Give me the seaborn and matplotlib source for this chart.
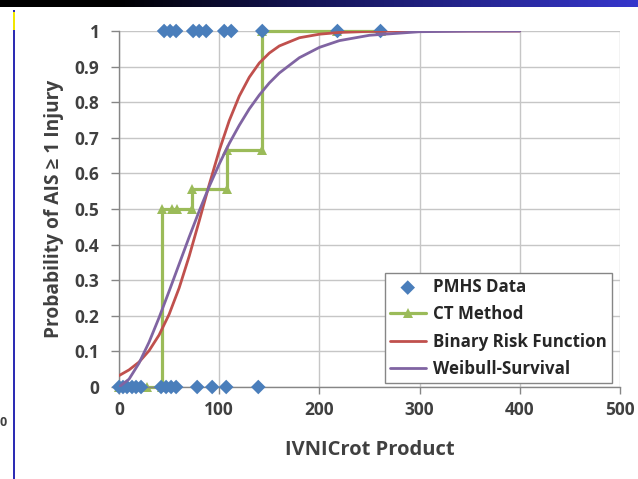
import numpy as np
import pandas as pd
import matplotlib
matplotlib.use("Agg")
import matplotlib.pyplot as plt
from matplotlib.colors import LinearSegmentedColormap
from matplotlib.patches import Rectangle
from matplotlib.ticker import FuncFormatter, MultipleLocator
import seaborn as sns

# PMHS test results (0 = no injury, 1 = AIS >= 1)
pmhs_x = [0, 4, 8, 13, 17, 22, 42, 47, 52, 57, 78, 93, 107, 139,
          45, 51, 57, 74, 80, 87, 105, 112, 143, 218, 261]
pmhs_y = [0, 0, 0, 0, 0, 0, 0, 0, 0, 0, 0, 0, 0, 0,
          1, 1, 1, 1, 1, 1, 1, 1, 1, 1, 1]

# CT method step estimate
ct_x = [0, 28, 43, 43, 53, 58, 73, 73, 108, 108, 143, 143, 218, 261]
ct_y = [0, 0, 0, 0.5, 0.5, 0.5, 0.5, 0.556, 0.556, 0.667, 0.667, 1, 1, 1]

# risk curves
curve_x = [0, 10, 20, 30, 40, 50, 60, 70, 80, 90, 100, 110, 120, 130, 140,
           150, 160, 180, 200, 220, 250, 300, 350, 400]
binary_y = [0.032, 0.048, 0.070, 0.102, 0.146, 0.204, 0.278, 0.367, 0.466,
            0.568, 0.664, 0.748, 0.817, 0.870, 0.910, 0.938, 0.958, 0.981,
            0.991, 0.996, 0.999, 1.0, 1.0, 1.0]
weibull_y = [0.0, 0.022, 0.067, 0.126, 0.195, 0.269, 0.345, 0.421, 0.494,
             0.563, 0.626, 0.684, 0.735, 0.781, 0.820, 0.854, 0.882, 0.925,
             0.954, 0.973, 0.988, 0.998, 0.9996, 1.0]

pmhs = pd.DataFrame({'x': pmhs_x, 'y': pmhs_y})
ct = pd.DataFrame({'x': ct_x, 'y': ct_y})
curves = pd.DataFrame({'x': curve_x, 'binary': binary_y, 'weibull': weibull_y})

sns.set_theme(style="whitegrid")
plt.rcParams['font.family'] = ['Open Sans', 'DejaVu Sans']
plt.rcParams['font.weight'] = 'bold'

fig = plt.figure(figsize=(6.38, 4.79), dpi=100)
fig.patch.set_facecolor('white')

# slide decoration: gradient bar on top, blue rule on the left
bar = fig.add_axes([0, 1 - 7 / 479, 1, 7 / 479])
cmap = LinearSegmentedColormap.from_list(
    'slide', [(0, '#000000'), (0.18, '#000000'), (0.45, '#12124d'), (1, '#3636cc')])
bar.imshow(np.linspace(0, 1, 256)[None, :], cmap=cmap, aspect='auto')
bar.axis('off')
fig.add_artist(Rectangle((13 / 638, 0), 2 / 638, 1 - 10 / 479,
                         transform=fig.transFigure, color='#2d2db4', lw=0))
fig.add_artist(Rectangle((13 / 638, 1 - 30 / 479), 2 / 638, 18 / 479,
                         transform=fig.transFigure, color='#f2e600', lw=0))
fig.text(0.0, 1 - 422 / 479, '0', fontsize=9, color='#404040', va='center')

ax = fig.add_axes([119 / 638, 1 - 387 / 479, 501 / 638, 356 / 479])

sns.lineplot(data=ct, x='x', y='y', ax=ax, estimator=None, sort=False,
             color='#9bbb59', lw=2.3, marker='^', markersize=7.5,
             markeredgewidth=0, label='CT Method', zorder=2, clip_on=False)
sns.scatterplot(data=pmhs, x='x', y='y', ax=ax, marker='D', s=55,
                color='#4a7ebb', edgecolor='none', label='PMHS Data',
                zorder=3, clip_on=False)
sns.lineplot(data=curves, x='x', y='binary', ax=ax, color='#c0504d', lw=2,
             label='Binary Risk Function', zorder=4)
sns.lineplot(data=curves, x='x', y='weibull', ax=ax, color='#8064a2', lw=2,
             label='Weibull-Survival', zorder=5)

ax.set_xlim(0, 500)
ax.set_ylim(0, 1)
ax.xaxis.set_major_locator(MultipleLocator(100))
ax.yaxis.set_major_locator(MultipleLocator(0.1))
ax.yaxis.set_major_formatter(FuncFormatter(lambda v, p: f'{v:g}'))
ax.grid(True, color='#c6c6c6', lw=1)
for side in ['top', 'right']:
    ax.spines[side].set_visible(False)
for side in ['left', 'bottom']:
    ax.spines[side].set_color('#868686')
    ax.spines[side].set_linewidth(1)
ax.tick_params(axis='x', bottom=True, direction='out', length=5, width=1,
               color='#868686', labelsize=12.5, labelcolor='#404040', pad=5)
ax.tick_params(axis='y', left=True, direction='out', length=6, width=1,
               color='#868686', labelsize=12.5, labelcolor='#404040', pad=8)
for t in ax.get_xticklabels() + ax.get_yticklabels():
    t.set_fontweight('bold')

ax.set_xlabel('IVNICrot Product', fontsize=14.5, fontweight='bold',
              color='#404040', labelpad=15)
ax.set_ylabel('Probability of AIS \u2265 1 Injury', fontsize=13.8,
              fontweight='bold', color='#404040', labelpad=8)

h, l = ax.get_legend_handles_labels()
order = [l.index(n) for n in ['PMHS Data', 'CT Method', 'Binary Risk Function', 'Weibull-Survival']]
leg = ax.legend([h[i] for i in order], [l[i] for i in order],
                loc='lower right', bbox_to_anchor=(0.984, 0.011),
                borderaxespad=0, prop={'size': 12.2, 'weight': 'bold'},
                frameon=True, fancybox=False, framealpha=1,
                edgecolor='#868686', handlelength=2.1, labelspacing=0.55,
                borderpad=0.3, handletextpad=0.45)
leg.get_frame().set_linewidth(1)
for t in leg.get_texts():
    t.set_color('#262626')

fig.savefig('out.png', dpi=100)
